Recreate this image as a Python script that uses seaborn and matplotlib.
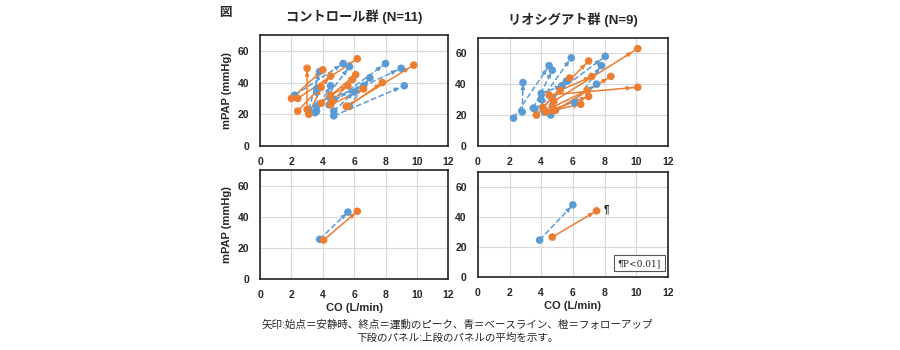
import matplotlib
matplotlib.use("Agg")
import matplotlib.pyplot as plt
import seaborn as sns
import pandas as pd

sns.set_theme(style="whitegrid")
plt.rcParams['font.family'] = ['Liberation Sans', 'Noto Sans CJK JP', 'DejaVu Sans']

BLUE = '#5B9BD5'
ORANGE = '#ED7D31'

# --- control group (N=11): baseline (blue) ---
ctrl_b_rest_co = [2.2, 3.1, 3.5, 3.6, 3.6, 4.4, 4.7, 4.7, 4.7, 5.7, 4.5]
ctrl_b_rest_pap = [32, 23, 21, 25, 22, 26, 29, 22, 19, 25, 30]
ctrl_b_peak_co = [5.3, 3.8, 5.7, 3.6, 4.5, 8.0, 9.0, 6.0, 9.2, 7.0, 6.6]
ctrl_b_peak_pap = [52, 47, 50, 36, 38, 52, 49, 34, 38, 43, 38]
# --- control group: follow-up (orange) ---
ctrl_f_rest_co = [2.0, 2.4, 3.0, 2.4, 3.1, 3.9, 4.5, 4.5, 5.5, 5.6, 4.6]
ctrl_f_rest_pap = [30, 30, 23, 22, 20, 27, 32, 26, 25, 25, 28]
ctrl_f_peak_co = [4.0, 6.2, 3.0, 4.5, 3.9, 6.1, 5.6, 6.6, 9.8, 7.8, 5.9]
ctrl_f_peak_pap = [48, 55, 49, 44, 37, 45, 38, 36, 51, 40, 42]

# --- riociguat group (N=9): baseline (blue) ---
rio_b_rest_co = [2.25, 2.8, 3.5, 4.0, 4.2, 4.6, 3.6, 4.0, 6.1]
rio_b_rest_pap = [18, 22, 24.5, 30, 22, 20, 24, 34, 28]
rio_b_peak_co = [4.5, 2.85, 4.7, 5.9, 5.6, 7.5, 8.05, 5.3, 7.8]
rio_b_peak_pap = [52, 41, 49, 57, 42, 40, 58, 39, 52]
# --- riociguat group: follow-up (orange) ---
rio_f_rest_co = [3.7, 4.1, 4.8, 4.9, 4.3, 4.5, 5.2, 4.7, 4.7]
rio_f_rest_pap = [20, 25, 29, 23, 22, 33, 36, 25, 23]
rio_f_peak_co = [5.8, 7.0, 10.1, 8.4, 7.0, 10.1, 7.2, 6.9, 6.5]
rio_f_peak_pap = [44, 55, 63, 45, 32, 38, 45, 36, 27]

# --- means (lower panels): rest co, rest pap, peak co, peak pap ---
ctrl_mean_b = [3.8, 25.5, 5.6, 43]
ctrl_mean_f = [4.05, 25, 6.2, 43.5]
rio_mean_b = [3.9, 24.5, 6.0, 48]
rio_mean_f = [4.7, 26.5, 7.5, 44]

titles = ['コントロール群 (N=11)', 'リオシグアト群 (N=9)']
caption = ['矢印:始点＝安静時、終点＝運動のピーク、青＝ベースライン、橙＝フォローアップ',
           '下段のパネル:上段のパネルの平均を示す。']


def draw_arrows(ax, rest_co, rest_pap, peak_co, peak_pap, color, ls):
    rows = []
    for i in range(len(rest_co)):
        rows.append({'id': i, 'co': rest_co[i], 'pap': rest_pap[i]})
        rows.append({'id': i, 'co': peak_co[i], 'pap': peak_pap[i]})
    df = pd.DataFrame(rows)
    sns.lineplot(data=df, x='co', y='pap', units='id', estimator=None,
                 color=color, linestyle=ls, linewidth=1.1, sort=False, ax=ax)
    sns.scatterplot(data=df, x='co', y='pap', color=color, s=30,
                    edgecolor='none', ax=ax, zorder=4)
    for i in range(len(rest_co)):
        x0, y0, x1, y1 = rest_co[i], rest_pap[i], peak_co[i], peak_pap[i]
        # short arrowhead just before the end point
        fx = x0 + (x1 - x0) * 0.85
        fy = y0 + (y1 - y0) * 0.85
        tx = x0 + (x1 - x0) * 0.93
        ty = y0 + (y1 - y0) * 0.93
        ax.annotate('', xy=(tx, ty), xytext=(fx, fy),
                    arrowprops=dict(arrowstyle='-|>', color=color, lw=1,
                                    mutation_scale=6, shrinkA=0, shrinkB=0))


def style_ax(ax):
    ax.set_xlim(0, 12)
    ax.set_ylim(0, 70)
    ax.set_xticks(range(0, 13, 2))
    ax.set_yticks(range(0, 61, 20))
    ax.grid(True, color='#d9d9d9', linewidth=0.8)
    for s in ax.spines.values():
        s.set_color('#222222')
        s.set_linewidth(1.2)
    ax.tick_params(labelsize=7.5, pad=2)
    for lab in ax.get_xticklabels() + ax.get_yticklabels():
        lab.set_fontweight('bold')
    ax.set_xlabel('')
    ax.set_ylabel('')


fig = plt.figure(figsize=(9, 3.5), dpi=100)
ax_tl = fig.add_axes([0.289, 0.583, 0.209, 0.317])
ax_tr = fig.add_axes([0.531, 0.583, 0.211, 0.309])
ax_bl = fig.add_axes([0.289, 0.203, 0.209, 0.311])
ax_br = fig.add_axes([0.531, 0.209, 0.211, 0.300])

draw_arrows(ax_tl, ctrl_b_rest_co, ctrl_b_rest_pap, ctrl_b_peak_co, ctrl_b_peak_pap, BLUE, '--')
draw_arrows(ax_tl, ctrl_f_rest_co, ctrl_f_rest_pap, ctrl_f_peak_co, ctrl_f_peak_pap, ORANGE, '-')
draw_arrows(ax_tr, rio_b_rest_co, rio_b_rest_pap, rio_b_peak_co, rio_b_peak_pap, BLUE, '--')
draw_arrows(ax_tr, rio_f_rest_co, rio_f_rest_pap, rio_f_peak_co, rio_f_peak_pap, ORANGE, '-')

for ax, mb, mf in [(ax_bl, ctrl_mean_b, ctrl_mean_f), (ax_br, rio_mean_b, rio_mean_f)]:
    draw_arrows(ax, [mb[0]], [mb[1]], [mb[2]], [mb[3]], BLUE, '--')
    draw_arrows(ax, [mf[0]], [mf[1]], [mf[2]], [mf[3]], ORANGE, '-')

for ax in [ax_tl, ax_tr, ax_bl, ax_br]:
    style_ax(ax)

ax_tl.set_title(titles[0], fontsize=9.5, fontweight='bold', pad=10)
ax_tr.set_title(titles[1], fontsize=9.5, fontweight='bold', pad=10)
for ax in [ax_tl, ax_bl]:
    ax.set_ylabel('mPAP (mmHg)', fontsize=8, fontweight='bold', labelpad=4)
for ax in [ax_bl, ax_br]:
    ax.set_xlabel('CO (L/min)', fontsize=8, fontweight='bold', labelpad=2)

ax_br.text(rio_mean_f[2] + 0.45, rio_mean_f[3] + 1, '¶', fontsize=7,
           fontweight='bold', va='center')
ax_br.text(10.2, 9, '¶P<0.01]', fontsize=6.5, family='DejaVu Serif',
           ha='center', va='center',
           bbox=dict(boxstyle='square,pad=0.4', fc='white', ec='#555555', lw=0.8))

fig.text(0.243, 0.962, '図', fontsize=9, fontweight='bold', va='center')
fig.text(0.508, 0.072, caption[0], fontsize=7.6, ha='center', va='center')
fig.text(0.508, 0.034, caption[1], fontsize=7.6, ha='center', va='center')

fig.savefig('out.png', dpi=100)
